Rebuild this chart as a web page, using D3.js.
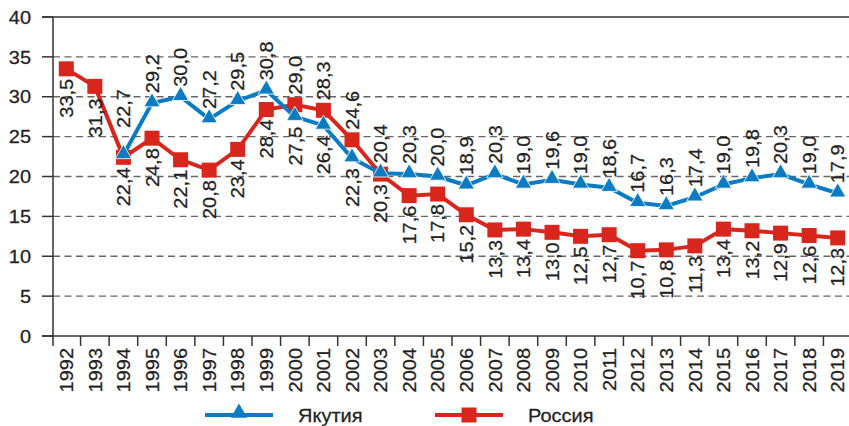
<!DOCTYPE html>
<html>
<head>
<meta charset="utf-8">
<script src="https://cdn.jsdelivr.net/npm/d3@7"></script>
<style>
  body { margin: 0; background: #fff; }
  text { font-family: "Liberation Sans", Arial, sans-serif; fill: #222; stroke: #222; stroke-width: 0.25px; }
</style>
</head>
<body>
<div id="chart"></div>
<script>
const years = d3.range(1992, 2020)
const yakutia = [null, null, 22.7, 29.2, 30.0, 27.2, 29.5, 30.8, 27.5, 26.4, 22.3, 20.4, 20.3, 20.0,
  18.9, 20.3, 19.0, 19.6, 19.0, 18.6, 16.7, 16.3, 17.4, 19.0, 19.8, 20.3, 19.0, 17.9]
const russia = [33.5, 31.3, 22.4, 24.8, 22.1, 20.8, 23.4, 28.4, 29.0, 28.3, 24.6, 20.3, 17.6, 17.8,
  15.2, 13.3, 13.4, 13.0, 12.5, 12.7, 10.7, 10.8, 11.3, 13.4, 13.2, 12.9, 12.6, 12.3]
const yTicks = [0, 5, 10, 15, 20, 25, 30, 35, 40]
const seriesNames = ['Якутия', 'Россия']

const blue = '#0b7cc3'
const red = '#d8261d'
const axisColor = '#333'
const fs = 18.5
const sx = 1.08

const svg = d3.select('#chart')
  .append('svg')
  .attr('width', 849)
  .attr('height', 426)

const x = d3.scaleBand().domain(years).range([52, 852])
const y = d3.scaleLinear().domain([0, 40]).range([336, 17])
const cx = d => x(d) + x.bandwidth() / 2

// grid
svg.selectAll('.grid')
  .data(yTicks.filter(t => t > 0 && t < 40))
  .enter()
  .append('line')
  .attr('x1', 53).attr('x2', 852)
  .attr('y1', d => y(d)).attr('y2', d => y(d))
  .attr('stroke', '#666')
  .attr('stroke-width', 1.3)
  .attr('stroke-dasharray', '7,4.5')

// top line
svg.append('line')
  .attr('x1', 42).attr('x2', 852)
  .attr('y1', y(40)).attr('y2', y(40))
  .attr('stroke', axisColor).attr('stroke-width', 1.5)

// y axis
svg.append('line')
  .attr('x1', 53).attr('x2', 53)
  .attr('y1', y(40)).attr('y2', 346)
  .attr('stroke', axisColor).attr('stroke-width', 1.5)

svg.selectAll('.ytick')
  .data(yTicks)
  .enter()
  .append('line')
  .attr('x1', 42).attr('x2', 53)
  .attr('y1', d => y(d)).attr('y2', d => y(d))
  .attr('stroke', axisColor).attr('stroke-width', 1.5)

svg.selectAll('.ylab')
  .data(yTicks)
  .enter()
  .append('text')
  .attr('transform', d => `translate(31,${y(d)}) scale(${sx},1)`)
  .attr('dy', '0.36em')
  .attr('text-anchor', 'end')
  .style('font-size', fs + 'px')
  .text(d => d)

// x axis
svg.append('line')
  .attr('x1', 42).attr('x2', 852)
  .attr('y1', y(0)).attr('y2', y(0))
  .attr('stroke', axisColor).attr('stroke-width', 1.5)

svg.selectAll('.xtick')
  .data(years.slice(1))
  .enter()
  .append('line')
  .attr('x1', d => x(d)).attr('x2', d => x(d))
  .attr('y1', y(0)).attr('y2', 346)
  .attr('stroke', axisColor).attr('stroke-width', 1.5)

svg.selectAll('.xlab')
  .data(years)
  .enter()
  .append('text')
  .attr('transform', d => `translate(${cx(d)},348) rotate(-90) scale(${sx},1)`)
  .attr('dy', '0.36em')
  .attr('text-anchor', 'end')
  .style('font-size', fs + 'px')
  .text(d => d)

// lines
const line = d3.line()
  .defined(d => d[1] != null)
  .x(d => cx(d[0]))
  .y(d => y(d[1]))

const redPts = years.map((yr, i) => [yr, russia[i]])
const bluePts = years.map((yr, i) => [yr, yakutia[i]])

svg.append('path')
  .datum(redPts)
  .attr('d', line)
  .attr('fill', 'none')
  .attr('stroke', red)
  .attr('stroke-width', 4)

svg.selectAll('.sq')
  .data(redPts)
  .enter()
  .append('rect')
  .attr('x', d => cx(d[0]) - 7.5)
  .attr('y', d => y(d[1]) - 7.5)
  .attr('width', 15).attr('height', 15)
  .attr('fill', red)

svg.append('path')
  .datum(bluePts)
  .attr('d', line)
  .attr('fill', 'none')
  .attr('stroke', blue)
  .attr('stroke-width', 4)

const tri = d3.symbol().type(d3.symbolTriangle).size(115)

svg.selectAll('.tri')
  .data(bluePts.filter(d => d[1] != null))
  .enter()
  .append('path')
  .attr('d', tri)
  .attr('transform', d => `translate(${cx(d[0])},${y(d[1]) - 1})`)
  .attr('fill', blue)
  .attr('stroke', '#fff')
  .attr('stroke-width', 0.8)

// value labels: higher series above, lower below
const labels = []
years.forEach((yr, i) => {
  const b = yakutia[i], r = russia[i]
  if (b == null) {
    labels.push({ yr, v: r, up: false })
  } else if (b >= r) {
    labels.push({ yr, v: b, up: true })
    labels.push({ yr, v: r, up: false })
  } else {
    labels.push({ yr, v: r, up: true })
    labels.push({ yr, v: b, up: false })
  }
})

const fmt = v => v.toFixed(1).replace('.', ',')
// 1994 upper label sits higher, clear of the red line
const gap = d => d.up ? (d.yr === 1994 ? -27 : -10) : (d.yr === 1993 ? 12 : 10)

svg.selectAll('.vlab')
  .data(labels)
  .enter()
  .append('text')
  .attr('transform', d => `translate(${cx(d.yr)},${y(d.v) + gap(d)}) rotate(-90) scale(${sx},1)`)
  .attr('dy', '0.36em')
  .attr('text-anchor', d => d.up ? 'start' : 'end')
  .style('font-size', fs + 'px')
  .text(d => fmt(d.v))

// legend
const legend = [
  { name: seriesNames[0], color: blue, x0: 205, x1: 273, mx: 239, tx: 298, shape: 'tri' },
  { name: seriesNames[1], color: red, x0: 435, x1: 503, mx: 469, tx: 528, shape: 'sq' }
]
legend.forEach(l => {
  svg.append('line')
    .attr('x1', l.x0).attr('x2', l.x1)
    .attr('y1', 415).attr('y2', 415)
    .attr('stroke', l.color).attr('stroke-width', 4)
  if (l.shape === 'tri') {
    svg.append('path')
      .attr('d', tri)
      .attr('transform', `translate(${l.mx},413)`)
      .attr('fill', l.color)
  } else {
    svg.append('rect')
      .attr('x', l.mx - 7.5).attr('y', 407.5)
      .attr('width', 15).attr('height', 15)
      .attr('fill', l.color)
  }
  svg.append('text')
    .attr('transform', `translate(${l.tx},415) scale(${sx},1)`)
    .attr('dy', '0.36em')
    .style('font-size', fs + 'px')
    .text(l.name)
})
</script>
</body>
</html>
